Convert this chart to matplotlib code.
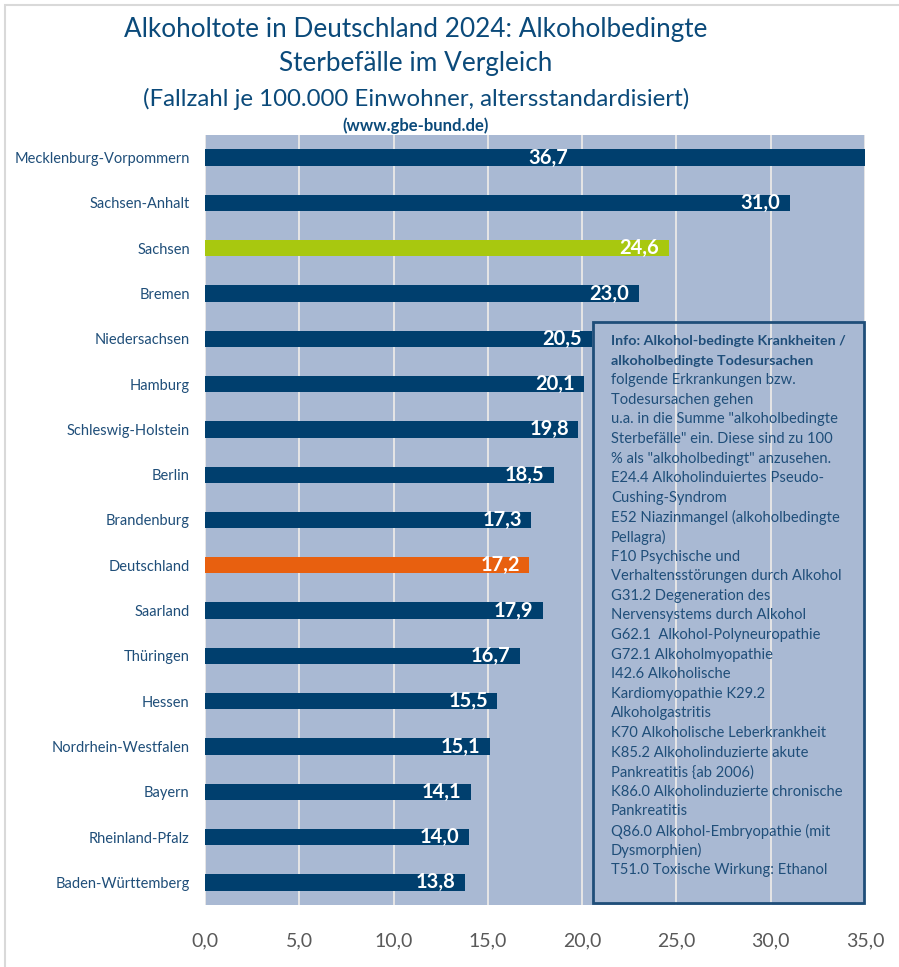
import matplotlib.pyplot as plt
from matplotlib.patches import Rectangle

# Daten (Fallzahl je 100.000 Einwohner, altersstandardisiert)
laender = ['Mecklenburg-Vorpommern', 'Sachsen-Anhalt', 'Sachsen', 'Bremen',
           'Niedersachsen', 'Hamburg', 'Schleswig-Holstein', 'Berlin',
           'Brandenburg', 'Deutschland', 'Saarland', 'Thüringen', 'Hessen',
           'Nordrhein-Westfalen', 'Bayern', 'Rheinland-Pfalz', 'Baden-Württemberg']
werte = [36.7, 31.0, 24.6, 23.0, 20.5, 20.1, 19.8, 18.5, 17.3, 17.2,
         17.9, 16.7, 15.5, 15.1, 14.1, 14.0, 13.8]
ticks = [0, 5, 10, 15, 20, 25, 30, 35]

info_titel = ["Info: Alkohol-bedingte Krankheiten /",
              "alkoholbedingte Todesursachen"]
info_zeilen = [
    "folgende Erkrankungen bzw.",
    "Todesursachen gehen",
    "u.a. in die Summe \"alkoholbedingte",
    "Sterbefälle\" ein. Diese sind zu 100",
    "% als \"alkoholbedingt\" anzusehen.",
    "E24.4 Alkoholinduiertes Pseudo-",
    "Cushing-Syndrom",
    "E52 Niazinmangel (alkoholbedingte",
    "Pellagra)",
    "F10 Psychische und",
    "Verhaltensstörungen durch Alkohol",
    "G31.2 Degeneration des",
    "Nervensystems durch Alkohol",
    "G62.1  Alkohol-Polyneuropathie",
    "G72.1 Alkoholmyopathie",
    "I42.6 Alkoholische",
    "Kardiomyopathie K29.2",
    "Alkoholgastritis",
    "K70 Alkoholische Leberkrankheit",
    "K85.2 Alkoholinduzierte akute",
    "Pankreatitis {ab 2006)",
    "K86.0 Alkoholinduzierte chronische",
    "Pankreatitis",
    "Q86.0 Alkohol-Embryopathie (mit",
    "Dysmorphien)",
    "T51.0 Toxische Wirkung: Ethanol",
]

NAVY = '#003F6E'
BG = '#A9B9D3'
TXT = '#1F4E79'
farben = {'Sachsen': '#A8C80F', 'Deutschland': '#E8600F'}

plt.rcParams['font.family'] = ['Lato', 'DejaVu Sans']

fig = plt.figure(figsize=(8.99, 9.67), dpi=100)
W, H = 899, 967
ax = fig.add_axes([205 / W, 1 - 905 / H, 660 / W, 770 / H])
ax.set_facecolor(BG)

xmax = 35
y = list(range(len(laender)))
cols = [farben.get(l, NAVY) for l in laender]
ax.barh(y, werte, height=0.36, color=cols, zorder=3)
ax.set_xlim(0, xmax)
ax.set_ylim(len(laender) - 0.5, -0.5)

for yi, v in zip(y, werte):
    txt = f'{v:.1f}'.replace('.', ',')
    if v > xmax:
        ax.text(xmax * 0.52, yi, txt, ha='center', va='center', color='white',
                fontsize=14.5, fontweight='bold', zorder=4)
    else:
        ax.text(v - 0.5, yi, txt, ha='right', va='center', color='white',
                fontsize=14.5, fontweight='bold', zorder=4)

ax.set_xticks(ticks)
ax.set_xticklabels([f'{t:.1f}'.replace('.', ',') for t in ticks],
                   fontsize=14, color='#595959')
ax.tick_params(axis='x', length=0, pad=20)
ax.set_yticks(y)
ax.set_yticklabels(laender, fontsize=10.5, color=TXT)
ax.tick_params(axis='y', length=0, pad=11)
ax.grid(axis='x', color='#E6E6E6', linewidth=1.4, zorder=1)
for s in ax.spines.values():
    s.set_visible(False)

# Info-Kasten
bx0, by0, bx1, by1 = 593, 322, 864, 903
fig.patches.append(Rectangle((bx0 / W, 1 - by1 / H), (bx1 - bx0) / W, (by1 - by0) / H,
                             transform=fig.transFigure, facecolor='none',
                             edgecolor='#1F4E79', linewidth=2, zorder=5))
zeile = 19.6
ypos = 341
for t in info_titel:
    fig.text(611 / W, 1 - ypos / H, t, fontsize=10.3, fontweight='bold', color=TXT,
             va='center', ha='left')
    ypos += zeile
for t in info_zeilen:
    fig.text(611 / W, 1 - ypos / H, t, fontsize=10.6, color=TXT, va='center', ha='left')
    ypos += zeile

# Titel
cx = 416 / W
fig.text(cx, 1 - 29 / H, 'Alkoholtote in Deutschland 2024: Alkoholbedingte',
         fontsize=18.8, color='#0B4A7A', ha='center', va='center')
fig.text(cx, 1 - 64 / H, 'Sterbefälle im Vergleich',
         fontsize=18.8, color='#0B4A7A', ha='center', va='center')
fig.text(cx, 1 - 99 / H, '(Fallzahl je 100.000 Einwohner, altersstandardisiert)',
         fontsize=17.3, color='#0B4A7A', ha='center', va='center')
fig.text(cx, 1 - 126 / H, '(www.gbe-bund.de)',
         fontsize=12, color='#0B4A7A', ha='center', va='center', fontweight='bold')

# Rahmen
fig.patches.append(Rectangle((5 / W, -0.01), 1.2, 1 - 5 / H + 0.01, transform=fig.transFigure,
                             facecolor='none', edgecolor='#D9D9D9', linewidth=1.5))

fig.savefig('out.png', dpi=100)
